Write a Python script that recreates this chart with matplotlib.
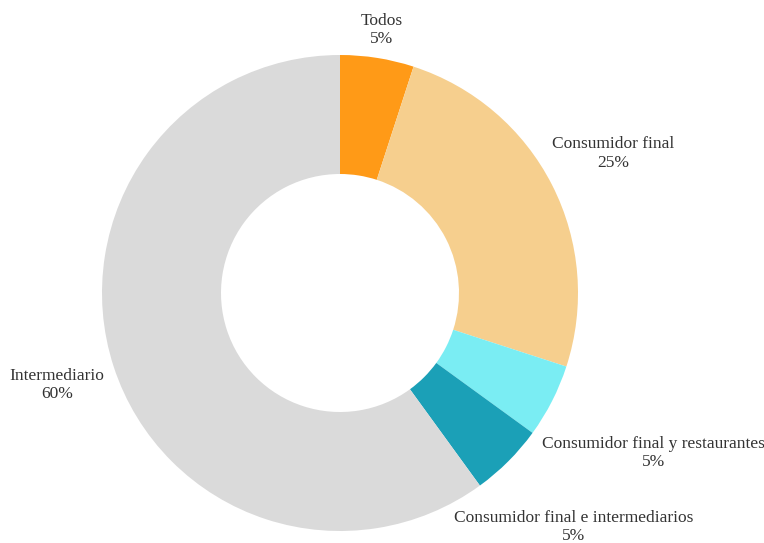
import numpy as np
import matplotlib
matplotlib.use("Agg")
import matplotlib.pyplot as plt

# data
categories = ["Todos", "Consumidor final", "Consumidor final y restaurantes",
              "Consumidor final e intermediarios", "Intermediario"]
shares = [5, 25, 5, 5, 60]
colors = ["#FF9A17", "#F6CF8E", "#7AEDF3", "#1BA0B7", "#DADADA"]
# label distance from center, in units of the outer radius
label_dist = [1.12, 1.29, 1.48, 1.39, 1.25]

plt.rcParams["font.family"] = ["Liberation Serif", "DejaVu Serif"]

W, H = 764, 543
cx, cy, R = 340, 293, 238
fig = plt.figure(figsize=(W / 100, H / 100), dpi=100)
ax = fig.add_axes([(cx - R) / W, (H - cy - R) / H, 2 * R / W, 2 * R / H])

wedges, _ = ax.pie(shares, colors=colors, startangle=90, counterclock=False,
                   radius=1.0, wedgeprops=dict(width=0.5, linewidth=0))
ax.set_xlim(-1, 1)
ax.set_ylim(-1, 1)
ax.set_aspect("equal")
ax.axis("off")

total = sum(shares)
start = 90.0
for name, val, d in zip(categories, shares, label_dist):
    sweep = 360.0 * val / total
    mid = np.deg2rad(start - sweep / 2)
    start -= sweep
    ax.text(d * np.cos(mid), d * np.sin(mid), f"{name}\n{val}%",
            ha="center", va="center", fontsize=12.5, color="#333333",
            linespacing=1.2, clip_on=False)

fig.savefig("out.png", dpi=100, facecolor="white")
